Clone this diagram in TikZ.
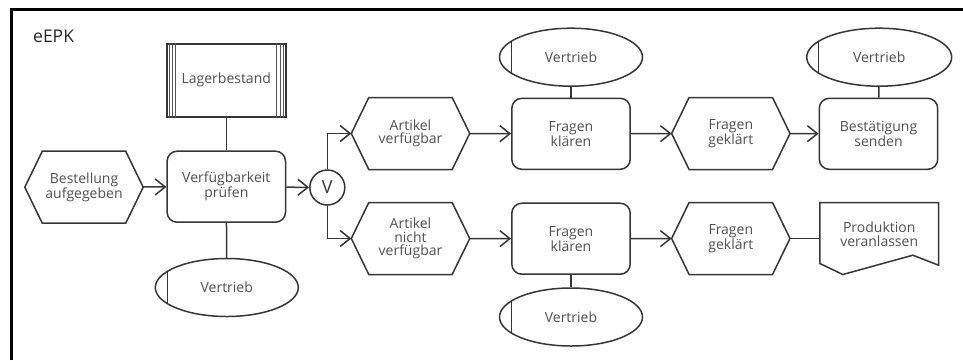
\documentclass[tikz,border=0pt]{standalone}
\usepackage{fontspec}
\setmainfont{Open Sans}
\usetikzlibrary{arrows.meta,shapes.geometric}
\definecolor{linegray}{HTML}{363636}
\definecolor{textgray}{HTML}{505050}
\begin{document}
\begin{tikzpicture}[x=1pt,y=-1pt,
  shapeline/.style={draw=linegray, line width=1.5pt, line join=miter},
  label/.style={inner sep=0pt, align=center, text=textgray,
    font=\fontsize{14}{13.6}\selectfont},
  event/.style={label, minimum width=118pt, minimum height=71.6pt},
  func/.style={label, shapeline, rounded corners=10pt,
    minimum width=118.4pt, minimum height=71pt},
  info/.style={label, shapeline, minimum width=119pt, minimum height=73pt},
  orgunit/.style={label, shapeline, ellipse, minimum width=143pt,
    minimum height=58pt,
    path picture={\draw[draw=linegray, line width=1.5pt]
      ([xshift=12pt]path picture bounding box.north west) --
      ([xshift=12pt]path picture bounding box.south west);}},
  document/.style={label, minimum width=118.3pt, minimum height=71.6pt},
  xor/.style={shapeline, circle, minimum size=35pt, inner sep=0pt,
    text=linegray, font=\fontsize{18}{18}\selectfont},
  flow/.style={draw=linegray, line width=1.5pt,
    -{Straight Barb[length=10pt,width=16pt,line width=1.5pt]}},
  link/.style={draw=linegray, line width=1.5pt},
  thinline/.style={draw=linegray!85, line width=0.9pt}
]
\useasboundingbox (0,0) rectangle (963,360);

% frame and title
\draw[line width=3pt, black] (11,360) -- (11,9.5) -- (963,9.5);
\node[anchor=base west, inner sep=0pt, text=black!85,
  font=\fontsize{17.5}{17.5}\selectfont] (title) at (33,42) {eEPK};

% events (hexagons drawn below)
\node[event] (best) at (84,187.2) {Bestellung\\aufgegeben};
\node[event] (av)   at (410.5,133.5) {Artikel\\verfügbar};
\node[event] (anv)  at (410.5,238.5) {Artikel\\nicht\\verfügbar};
\node[event] (fg1)  at (730.8,133.5) {Fragen\\geklärt};
\node[event] (fg2)  at (730.8,238.5) {Fragen\\geklärt};
\foreach \n in {best,av,anv,fg1,fg2}
  \draw[shapeline] (\n.west) -- ([xshift=17.5pt]\n.north west)
    -- ([xshift=-17.5pt]\n.north east) -- (\n.east)
    -- ([xshift=-17.5pt]\n.south east) -- ([xshift=17.5pt]\n.south west)
    -- cycle;

% functions
\node[func] (verf) at (226.3,186.7) {Verfügbarkeit\\prüfen};
\node[func] (fk1)  at (571,133.8) {Fragen\\klären};
\node[func] (fk2)  at (571,238.7) {Fragen\\klären};
\node[func] (bs)   at (878.5,133.8) {Bestätigung\\senden};

% information object
\node[info] (lager) at (226.3,80.3) {Lagerbestand};
\foreach \d in {3,6.2,9.8} {
  \draw[thinline] ([xshift=\d pt]lager.north west) -- ([xshift=\d pt]lager.south west);
  \draw[thinline] ([xshift=-\d pt]lager.north east) -- ([xshift=-\d pt]lager.south east);
}

% organisational units
\node[orgunit] (org1) at (226.8,287.5) {Vertrieb};
\node[orgunit] (org2) at (571,57.2) {Vertrieb};
\node[orgunit] (org3) at (571,317) {Vertrieb};
\node[orgunit, minimum width=145pt] (org4) at (879.2,57.2) {Vertrieb};

% connector
\node[xor] (or) at (327.3,187.5) {V};

% document
\node[document] (prod) at (879.2,238.5) {};
\draw[shapeline] ([yshift=11pt]prod.south west) -- (prod.north west)
  -- (prod.north east) -- ([yshift=9.3pt]prod.south east)
  -- ([xshift=93pt,yshift=19.3pt]prod.south west)
  -- ([xshift=23pt]prod.south west) -- cycle;
\node[label] (prodtext) at ([yshift=4.5pt]prod.center) {Produktion\\veranlassen};

% control flow
\draw[flow] (best) -- (verf);
\draw[flow] (verf) -- (or);
\draw[flow] (or.north) |- (av.west);
\draw[flow] (or.south) |- (anv.west);
\draw[flow] (av) -- (fk1);
\draw[flow] (anv) -- (fk2);
\draw[flow] (fk1) -- (fg1);
\draw[flow] (fk2) -- (fg2);
\draw[flow] (fg1) -- (bs);
\draw[link] (fg2.east) -- (prod.west);

% assignments
\draw[link] (lager) -- (verf);
\draw[link] (verf) -- (org1);
\draw[link] (org2) -- (fk1);
\draw[link] (fk2) -- (org3);
\draw[link] (org4) -- (bs);
\end{tikzpicture}
\end{document}
